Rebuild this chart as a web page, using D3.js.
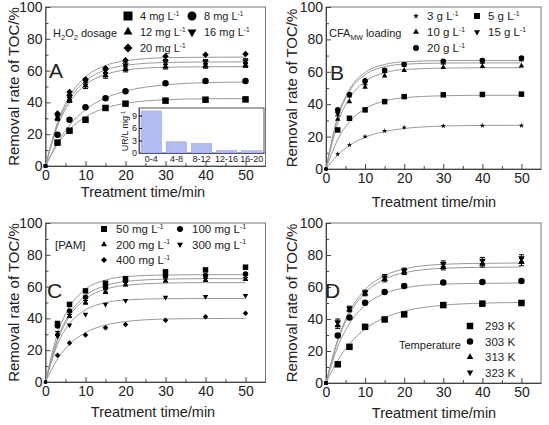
<!DOCTYPE html>
<html><head><meta charset="utf-8">
<script src="https://cdn.jsdelivr.net/npm/d3@7"></script>
<style>body{margin:0;background:#fff} text{font-family:"Liberation Sans",Arial,sans-serif;fill:#222;font-weight:400}</style>
</head><body><svg id="c" width="549" height="425"></svg>
<script>
// ---------- data ----------
const times = [0,3,6,10,15,20,30,40,50];
const xTicks = [0,10,20,30,40,50];
const xMinor = [5,15,25,35,45];
const yTicks = [0,20,40,60,80,100];
const yMinor = [10,30,50,70,90];

// Panel A: H2O2 dosage
const aLabels = ["4 mg L","8 mg L","12 mg L","16 mg L","20 mg L"];
const aSymbols = ["square","circle","triangle","triangleDown","diamond"];
const aPoints = [
  [0,14.7,22.2,29.1,36.5,39.2,41.1,41.7,41.9],
  [0,19.7,29.1,36.9,42.6,47,52,53.5,53.5],
  [0,30,41.5,50.5,57,61,62.5,63,63.5],
  [0,31.5,43.5,53,60,63.5,65.5,65.5,66],
  [0,33,46.5,54.5,61.5,66.5,69,70,70.5]];
const aFits = [
  [0,13.7,23,30.9,36.5,39.4,41.7,42.3,42.4],
  [0,14.9,25.6,35.4,42.8,47.1,51,52.4,52.8],
  [0,25,39.9,51.1,57.6,60.4,62.1,62.4,62.5],
  [0,26.2,41.9,53.5,60.4,63.3,65.1,65.4,65.5],
  [0,27.4,43.8,56,63.2,66.2,68.1,68.4,68.5]];
const aErrors = [
  [0,0,0,0,0,0,0,0,0],
  [0,0,0,0,0,0,0,0,0],
  [0,1.5,1.5,1.8,1.8,1.8,1.5,1.5,1.5],
  [0,1.5,1.5,1.8,1.8,1.8,1.5,1.5,1.5],
  [0,0,0,0,0,0,0,0,0]];

// Inset of panel A
const insetCats = ["0-4","4-8","8-12","12-16","16-20"];
const insetVals = [10.1,2.7,2.3,0.65,0.55];
const insetTicks = [0,3,6,9];

// Panel B: CFA_MW loading
const bLabels = ["3 g L","5 g L","10 g L","15 g L","20 g L"];
const bSymbols = ["star","square","triangle","triangleDown","circle"];
const bPoints = [
  [0,9.2,14.8,20,23.5,25.6,26.6,26.8,26.8],
  [0,24.1,31.3,36.5,41.6,44.7,45.8,46,46.2],
  [0,30.7,41.6,50.5,57.5,60.8,62.7,63.3,63.7],
  [0,34,45.5,53,60.5,64.5,66,66.5,68],
  [0,36.5,46,54.5,61,64.5,66.5,67,68.5]];
const bFits = [
  [0,8.7,14.6,19.6,23.2,25,26.5,26.9,27],
  [0,18.2,29.1,37.2,42,44,45.2,45.5,45.5],
  [0,28.2,43.7,54,59.4,61.4,62.3,62.5,62.5],
  [0,31.6,48,58.2,63.1,64.7,65.4,65.5,65.5],
  [0,32.4,49.1,59.6,64.5,66.2,66.9,67,67]];
const bErrors = [
  [0,0,0,0,0,0,0,0,0],
  [0,0,0,0,0,0,0,0,0],
  [0,0,0,0,0,0,0,0,0],
  [0,1.2,1,1,1,1,1.2,1.2,1.2],
  [0,0,0,0,0,0,0,0,0]];

// Panel C: PAM
const cLabels = ["50 mg L","100 mg L","200 mg L","300 mg L","400 mg L"];
const cSymbols = ["square","circle","triangle","triangleDown","diamond"];
const cPoints = [
  [0,36.8,48.8,57.3,62.1,65,69.3,70.5,72.2],
  [0,35.2,44.6,53.3,59.4,63.8,66.7,67,68],
  [0,30.5,41.5,50.1,56.8,61.5,63.8,64.2,64.8],
  [0,28.8,35.8,42.5,48.8,51.2,53.3,53.7,54.3],
  [0,16.8,24.6,29.5,34.1,36.2,38.9,41.1,43.2]];
const cFits = [
  [0,30.4,47.2,58.4,64.1,66.3,67.3,67.5,67.5],
  [0,27.1,42.9,54.3,60.6,63.2,64.7,65,65],
  [0,26.1,41.3,52.2,58.3,60.8,62.2,62.5,62.5],
  [0,23.7,36.7,45.4,49.9,51.6,52.4,52.5,52.5],
  [0,14.5,23.7,31.1,35.8,38,39.6,39.9,40]];
const cErrors = [
  [0,0,0,0,0,0,0,0,0],
  [0,0,0,0,0,0,0,0,0],
  [0,1.2,1,1.2,1.2,1.2,1,1,1],
  [0,0,0,0,0,0,0,0,0],
  [0,0,0,0,0,0,0,0,0]];

// Panel D: Temperature
const dLabels = ["293 K","303 K","313 K","323 K"];
const dSymbols = ["square","circle","triangle","triangleDown"];
const dPoints = [
  [0,11.7,22.6,35.1,39.7,42.9,48.7,49.6,50],
  [0,29.7,41,50.2,56.9,60.7,62.8,63.2,63.8],
  [0,36,46,56,65,69.5,72.5,74.5,75.5],
  [0,38,46.5,56.5,66,70,74.5,76.5,78]];
const dFits = [
  [0,14.2,24.4,33.7,40.8,44.9,48.6,49.9,50.3],
  [0,22.6,37.1,48.6,55.9,59.4,61.8,62.3,62.5],
  [0,26.2,43,56.3,64.9,68.9,71.7,72.3,72.5],
  [0,27.2,44.5,58.3,67.1,71.3,74.2,74.8,75]];
const dErrors = [
  [0,0,0,0,0,0,0,0,0],
  [0,0,0,0,0,0,0,0,0],
  [0,2,1.5,1.5,1.8,1.8,1.8,2,2.2],
  [0,2,1.5,1.5,1.8,1.8,1.8,2,2.2]];

// ---------- drawing ----------
const svg = d3.select("#c");
const FONT = '"Liberation Sans", Arial, sans-serif';
const TXT = "#222";

function symPath(type, w) {
  switch (type) {
    case "square": return {p: d3.symbol(d3.symbolSquare, w*w)(), r: 0};
    case "circle": return {p: d3.symbol(d3.symbolCircle, Math.PI*w*w/4)(), r: 0};
    case "triangle": return {p: d3.symbol(d3.symbolTriangle, 0.433*w*w)(), r: 0};
    case "triangleDown": return {p: d3.symbol(d3.symbolTriangle, 0.433*w*w)(), r: 180};
    case "diamond": return {p: d3.symbol(d3.symbolSquare, w*w/2)(), r: 45};
    case "star": return {p: d3.symbol(d3.symbolStar, 0.28*w*w)(), r: 0};
  }
}
function drawSym(g, type, w, cx, cy) {
  const s = symPath(type, w);
  g.append("path").attr("d", s.p)
    .attr("transform", `translate(${cx},${cy}) rotate(${s.r})`)
    .attr("fill", "#000");
}
function superLabel(g, x, y, txt, fs, sup) {
  const t = g.append("text").attr("x", x).attr("y", y)
    .style("font-size", fs + "px").style("font-family", FONT).style("fill", TXT);
  t.append("tspan").text(txt);
  if (sup) t.append("tspan").attr("dy", -fs*0.4).style("font-size", (fs*0.6) + "px").text("-1");
  return t;
}

function panel(cfg) {
  const g = svg.append("g");
  const x = d3.scaleLinear().domain([0,55]).range([cfg.l, cfg.r]);
  const y = d3.scaleLinear().domain([0,100]).range([cfg.b, cfg.t]);

  // frame
  g.append("rect").attr("x", cfg.l).attr("y", cfg.t)
    .attr("width", cfg.r - cfg.l).attr("height", cfg.b - cfg.t)
    .attr("fill", "none").attr("stroke", "#777").attr("stroke-width", 1);

  // axes
  g.append("g").attr("transform", `translate(0,${cfg.b})`)
    .call(d3.axisBottom(x).tickValues(xTicks).tickSizeInner(-5).tickSizeOuter(0).tickPadding(4));
  g.append("g").attr("transform", `translate(0,${cfg.b})`)
    .call(d3.axisBottom(x).tickValues(xMinor).tickSizeInner(-3).tickSizeOuter(0).tickFormat(""))
    .select(".domain").remove();
  g.append("g").attr("transform", `translate(${cfg.l},0)`)
    .call(d3.axisLeft(y).tickValues(yTicks).tickSizeInner(-5).tickSizeOuter(0).tickPadding(3));
  g.append("g").attr("transform", `translate(${cfg.l},0)`)
    .call(d3.axisLeft(y).tickValues(yMinor).tickSizeInner(-3).tickSizeOuter(0).tickFormat(""))
    .select(".domain").remove();
  g.selectAll(".tick text").style("font-size", "14px").style("font-family", FONT).attr("fill", TXT);
  g.selectAll(".domain").attr("stroke", "#444");
  g.selectAll(".tick line").attr("stroke", "#444");

  // titles
  g.append("text").attr("transform", `translate(${cfg.ytx},${(cfg.t+cfg.b)/2}) rotate(-90)`)
    .attr("text-anchor", "middle").style("font-size", "15px").style("font-family", FONT).style("fill", TXT)
    .text("Removal rate of TOC/%");
  g.append("text").attr("x", cfg.xtx).attr("y", cfg.xty)
    .attr("text-anchor", "middle").style("font-size", "14.5px").style("font-family", FONT).style("fill", TXT)
    .text("Treatment time/min");

  // panel letter
  g.append("text").attr("x", cfg.letter[0]).attr("y", cfg.letter[1])
    .style("font-size", "21px").style("font-family", FONT).style("fill", TXT).text(cfg.letterText);

  // fitted curves
  const line = d3.line().x((d,i) => x(times[i])).y(d => y(d)).curve(d3.curveMonotoneX);
  cfg.fits.forEach(f => {
    g.append("path").attr("d", line(f)).attr("fill", "none")
      .attr("stroke", "#999").attr("stroke-width", 1);
  });

  // error bars
  cfg.errors.forEach((es, si) => {
    es.forEach((e, i) => {
      if (!e) return;
      const v = cfg.points[si][i], cx = x(times[i]);
      g.append("line").attr("x1", cx).attr("x2", cx).attr("y1", y(v - e)).attr("y2", y(v + e))
        .attr("stroke", "#000").attr("stroke-width", 1);
      [v - e, v + e].forEach(vv => g.append("line").attr("x1", cx - 2.5).attr("x2", cx + 2.5)
        .attr("y1", y(vv)).attr("y2", y(vv)).attr("stroke", "#000").attr("stroke-width", 1));
    });
  });

  // points
  cfg.points.forEach((pts, si) => {
    pts.forEach((v, i) => drawSym(g, cfg.symbols[si], i === 0 ? cfg.msize*0.6 : cfg.msize, x(times[i]), y(v)));
  });

  // legend
  cfg.labels.forEach((lab, i) => {
    const [sx, sy] = cfg.legendPos[i];
    drawSym(g, cfg.symbols[i], cfg.lsize, sx, sy);
    superLabel(g, sx + cfg.ltextOff, sy + cfg.lfs*0.36, lab, cfg.lfs, cfg.sup);
  });
  return g;
}

// Panel A
const gA = panel({l:45.5, r:265.5, t:7, b:166, ytx:19, xtx:143, xty:197, letter:[49,78], letterText:"A",
  points:aPoints, fits:aFits, errors:aErrors, symbols:aSymbols, labels:aLabels, msize:6.5, lsize:9,
  legendPos:[[128,16],[192,16],[128,32],[192,32],[128,48]], ltextOff:12, lfs:11, sup:true});
{
  const t = gA.append("text").attr("x", 53).attr("y", 37).style("font-size", "11px").style("font-family", FONT).style("fill", TXT);
  t.append("tspan").text("H");
  t.append("tspan").attr("dy", 3).style("font-size", "7.5px").text("2");
  t.append("tspan").attr("dy", -3).text("O");
  t.append("tspan").attr("dy", 3).style("font-size", "7.5px").text("2");
  t.append("tspan").attr("dy", -3).text(" dosage");
}
// inset
{
  const il = 139, ir = 264, it = 108, ib = 153;
  const xi = d3.scaleBand().domain(insetCats).range([il, ir]).paddingInner(0.18).paddingOuter(0.08);
  const yi = d3.scaleLinear().domain([0, 10.8]).range([ib, it]);
  gA.append("rect").attr("x", il).attr("y", it).attr("width", ir - il).attr("height", ib - it)
    .attr("fill", "#fff").attr("stroke", "#555");
  gA.selectAll(".bar").data(insetVals).enter().append("rect")
    .attr("x", (d,i) => xi(insetCats[i])).attr("width", xi.bandwidth())
    .attr("y", d => yi(d)).attr("height", d => ib - yi(d))
    .attr("fill", "#b3bbf3").attr("stroke", "#9aa4ec").attr("stroke-width", 0.5);
  const yax = gA.append("g").attr("transform", `translate(${il},0)`)
    .call(d3.axisLeft(yi).tickValues(insetTicks).tickSizeInner(-3).tickSizeOuter(0).tickPadding(2));
  const xax = gA.append("g").attr("transform", `translate(0,${ib})`)
    .call(d3.axisBottom(xi).tickSize(0).tickPadding(3));
  [yax, xax].forEach(a => {
    a.selectAll("text").style("font-size", "9px").style("font-family", FONT).attr("fill", TXT);
    a.select(".domain").attr("stroke", "#555");
  });
  const t = gA.append("text").attr("transform", `translate(${128},${131}) rotate(-90)`)
    .attr("text-anchor", "middle").style("font-size", "9px").style("font-family", FONT).style("fill", TXT);
  t.append("tspan").text("UR/L mg");
  t.append("tspan").attr("dy", -3).style("font-size", "6px").text("-1");
}

// Panel B
const gB = panel({l:326, r:541, t:7, b:169, ytx:297, xtx:434, xty:207, letter:[330,80], letterText:"B",
  points:bPoints, fits:bFits, errors:bErrors, symbols:bSymbols, labels:bLabels, msize:5.5, lsize:6,
  legendPos:[[416,16],[477,16],[416,32],[477,32],[416,48]], ltextOff:11, lfs:11.5, sup:true});
{
  const t = gB.append("text").attr("x", 329).attr("y", 37).style("font-size", "11px").style("font-family", FONT).style("fill", TXT);
  t.append("tspan").text("CFA");
  t.append("tspan").attr("dy", 3).style("font-size", "7px").text("MW");
  t.append("tspan").attr("dy", -3).text(" loading");
}

// Panel C
const gC = panel({l:45.5, r:265.5, t:223, b:382, ytx:19, xtx:153, xty:417, letter:[47,298], letterText:"C",
  points:cPoints, fits:cFits, errors:cErrors, symbols:cSymbols, labels:cLabels, msize:5.5, lsize:6,
  legendPos:[[104,229],[180,229],[104,244.5],[180,244.5],[104,260]], ltextOff:12, lfs:11.5, sup:true});
gC.append("text").attr("x", 55).attr("y", 249).style("font-size", "11.5px").style("font-family", FONT).style("fill", TXT).text("[PAM]");

// Panel D
const gD = panel({l:326, r:541, t:223, b:383, ytx:297, xtx:434, xty:418, letter:[325,298], letterText:"D",
  points:dPoints, fits:dFits, errors:dErrors, symbols:dSymbols, labels:dLabels, msize:6.5, lsize:6.5,
  legendPos:[[470,326],[470,341.5],[470,357],[470,372.5]], ltextOff:15, lfs:11.5, sup:false});
gD.append("text").attr("x", 399).attr("y", 349).style("font-size", "11px").style("font-family", FONT).style("fill", TXT).text("Temperature");
</script></body></html>
